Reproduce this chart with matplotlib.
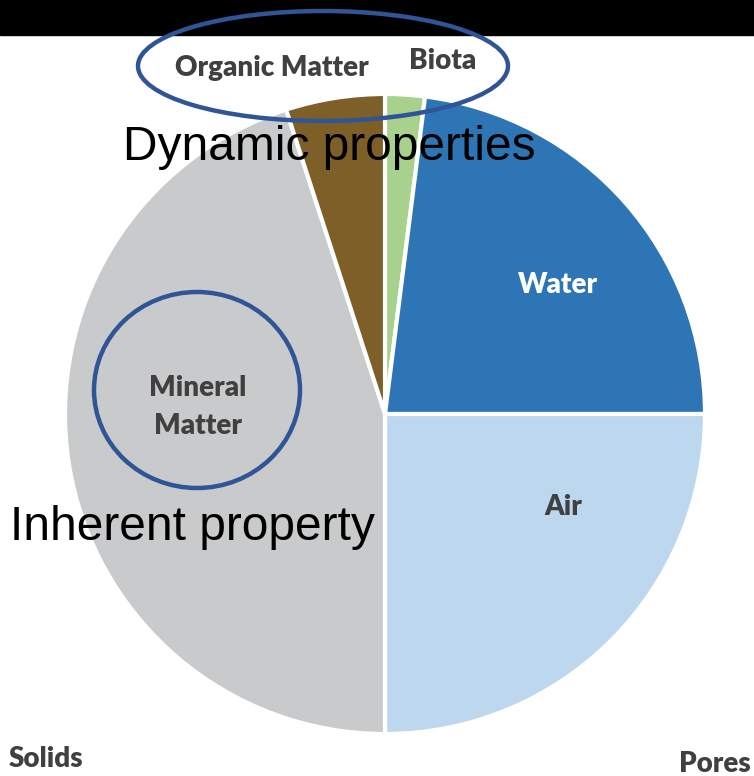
import matplotlib
matplotlib.use("Agg")
import matplotlib.pyplot as plt
from matplotlib.patches import Ellipse, Rectangle

# soil composition, percent, clockwise from 12 o'clock
parts = ["Biota", "Water", "Air", "Mineral Matter", "Organic Matter"]
shares = [2, 23, 25, 45, 5]
colors = ["#A9D18E", "#2E75B6", "#BDD7EE", "#C9CACB", "#7F5F28"]

W, H = 754, 776
fig = plt.figure(figsize=(W / 100, H / 100), dpi=100)
ax = fig.add_axes([0, 0, 1, 1])

# pixel-like coordinates, y measured from the bottom
cx, cy, r = 385, H - 414, 320
ax.pie(shares, colors=colors, startangle=90, counterclock=False,
       center=(cx, cy), radius=r,
       wedgeprops=dict(edgecolor="white", linewidth=3))
ax.set_xlim(0, W)
ax.set_ylim(0, H)
ax.set_aspect("auto")
ax.axis("off")

# black band at the top
ax.add_patch(Rectangle((0, H - 35), W, 35, color="black", zorder=0.5))

lab = dict(family="Lato", fontweight="heavy", ha="center", va="center",
           fontsize=20, color="#404040")
ax.text(272, H - 68, "Organic Matter", **lab)
ax.text(443, H - 61, "Biota", **lab)
ax.text(558, H - 285, "Water", **{**lab, "color": "white"})
ax.text(563, H - 507, "Air", **lab)
ax.text(198, H - 407, "Mineral\nMatter", linespacing=1.6, **lab)
ax.text(9, H - 759, "Solids", **{**lab, "ha": "left"})
ax.text(751, H - 764, "Pores", **{**lab, "ha": "right"})

big = dict(family="Liberation Sans", fontsize=34.5, color="black", va="center")
ax.text(123, H - 148, "Dynamic properties", ha="left", **big)
ax.text(10, H - 527, "Inherent property", ha="left", **big)

ring = dict(fill=False, edgecolor="#2F5597", linewidth=3.2, zorder=5)
ax.add_patch(Ellipse((323, H - 66), 370, 110, **ring))
ax.add_patch(Ellipse((197, H - 390), 206, 196, **ring))

fig.savefig("out.png", dpi=100)
